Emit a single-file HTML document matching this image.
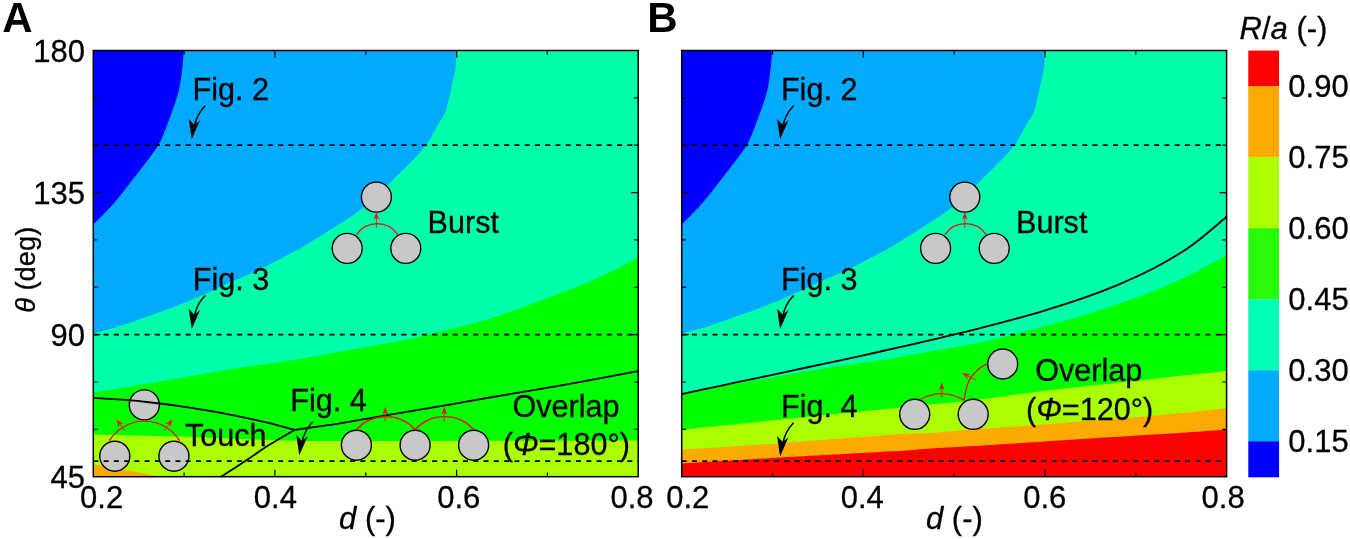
<!DOCTYPE html>
<html><head><meta charset="utf-8"><title>Figure</title>
<style>
html,body{margin:0;padding:0;background:#fff;}
body{width:1350px;height:539px;overflow:hidden;}
svg{display:block;}
text{font-family:"Liberation Sans",sans-serif;fill:#000;stroke:#000;stroke-width:0.3px;}
.t{font-size:31px;}
.a{font-size:30.6px;}
.b{font-size:42px;font-weight:bold;stroke:none;}
.i{font-style:italic;}
</style></head><body>
<svg width="1350" height="539" viewBox="0 0 1350 539">
<rect width="1350" height="539" fill="#fff"/>
<g id="panelA">
<rect x="93.3" y="50.5" width="544.9" height="426.2" fill="#00ffaa"/>
<path fill="#00aaff" d="M456.3,50.5 C456.2,53.3 456.4,60.8 455.5,67.3 C454.6,73.8 452.7,82.1 451.0,89.5 C449.3,96.9 447.6,105.9 445.4,111.8 C443.2,117.7 440.0,121.1 437.8,125.0 C435.6,128.9 434.3,131.6 432.4,135.0 C430.4,138.4 429.1,141.3 426.1,145.2 C423.1,149.1 419.1,153.4 414.4,158.4 C409.7,163.4 401.9,170.9 397.7,175.1 C393.5,179.3 395.4,177.8 389.4,183.4 C383.4,189.0 370.6,201.4 361.9,208.4 C353.1,215.4 346.4,219.4 336.9,225.6 C327.4,231.8 313.3,240.6 305.0,245.6 C296.7,250.6 293.1,252.2 287.3,255.3 C281.5,258.4 275.7,261.5 270.1,264.3 C264.5,267.1 259.5,269.8 253.9,272.3 C248.3,274.9 242.2,277.2 236.7,279.6 C231.1,282.1 228.8,283.3 220.6,287.0 C212.3,290.7 198.3,297.2 187.2,301.8 C176.1,306.4 164.9,310.3 153.8,314.3 C142.7,318.3 130.5,322.8 120.4,326.0 C110.3,329.2 97.8,332.3 93.3,333.6 L93.3,50.5 Z"/>
<path fill="#0000ff" d="M183.7,50.5 C183.5,53.3 183.2,60.8 182.4,67.3 C181.6,73.8 180.8,82.1 179.1,89.5 C177.4,96.9 174.6,104.4 172.0,111.8 C169.4,119.2 165.9,128.4 163.6,134.0 C161.3,139.6 161.2,140.5 158.3,145.2 C155.4,149.9 150.9,155.8 146.3,162.0 C141.7,168.2 136.2,175.2 130.6,182.3 C125.0,189.4 119.0,197.5 112.8,204.5 C106.6,211.5 96.5,221.2 93.3,224.5 L93.3,50.5 Z"/>
<path fill="#00ff00" d="M638.2,257.3 C634.1,259.5 623.3,265.8 613.6,270.5 C603.9,275.2 591.3,280.9 580.2,285.5 C569.1,290.1 557.9,294.0 546.8,298.2 C535.7,302.4 522.8,307.2 513.4,310.6 C504.0,314.0 499.7,316.0 490.3,318.8 C480.9,321.6 467.2,325.0 456.9,327.6 C446.6,330.2 439.7,332.2 428.6,334.7 C417.5,337.2 404.9,339.9 390.2,342.8 C375.4,345.7 356.8,348.8 340.1,351.8 C323.4,354.8 304.4,358.3 290.0,360.6 C275.6,362.9 265.5,364.1 253.9,365.8 C242.3,367.5 237.3,368.1 220.6,370.9 C203.9,373.7 175.0,379.0 153.8,382.6 C132.6,386.2 103.4,390.9 93.3,392.6 L93.3,476.7 L638.2,476.7 Z"/>
<path fill="#aaff00" d="M638.2,440.6 C587.7,440.7 392.2,441.1 335.0,441.1 C277.8,441.1 309.8,441.0 294.9,440.7 C280.0,440.4 265.2,440.0 245.9,439.3 C226.6,438.6 204.4,437.3 179.0,436.5 C153.6,435.7 107.6,434.8 93.3,434.4 L93.3,476.7 L638.2,476.7 Z"/>
<polygon fill="#ffaa00" points="93.3,464.5 112.3,467.6 134.5,471.8 162.0,476.7 93.3,476.7"/>
<circle cx="144.3" cy="404.9" r="15" fill="#c8c8c8" stroke="#000" stroke-width="1.4"/>
<circle cx="114.8" cy="456.2" r="15" fill="#c8c8c8" stroke="#000" stroke-width="1.4"/>
<circle cx="173.9" cy="456.2" r="15" fill="#c8c8c8" stroke="#000" stroke-width="1.4"/>
<circle cx="356.4" cy="445.2" r="15" fill="#c8c8c8" stroke="#000" stroke-width="1.4"/>
<circle cx="415.1" cy="445.2" r="15" fill="#c8c8c8" stroke="#000" stroke-width="1.4"/>
<circle cx="473.6" cy="445.2" r="15" fill="#c8c8c8" stroke="#000" stroke-width="1.4"/>
<circle cx="376.4" cy="197.1" r="15" fill="#c8c8c8" stroke="#000" stroke-width="1.4"/>
<circle cx="347.2" cy="248.4" r="15" fill="#c8c8c8" stroke="#000" stroke-width="1.4"/>
<circle cx="405.8" cy="248.4" r="15" fill="#c8c8c8" stroke="#000" stroke-width="1.4"/>
<line x1="93.3" y1="145.2" x2="638.2" y2="145.2" stroke="#000" stroke-width="1.8" stroke-dasharray="5 5.27"/>
<line x1="93.3" y1="334.6" x2="638.2" y2="334.6" stroke="#000" stroke-width="1.8" stroke-dasharray="5 5.27"/>
<line x1="93.3" y1="461.2" x2="638.2" y2="461.2" stroke="#000" stroke-width="1.8" stroke-dasharray="5 5.27"/>
<path d="M93.3,397.8 C98.1,398.1 112.5,398.9 122.1,399.7 C131.7,400.5 141.3,401.4 150.9,402.5 C160.5,403.6 170.1,404.8 179.7,406.2 C189.3,407.6 199.0,409.0 208.6,410.7 C218.2,412.4 227.8,414.2 237.4,416.2 C247.0,418.1 256.7,420.1 266.2,422.4 C275.7,424.7 289.8,428.6 294.5,429.9" fill="none" stroke="#000" stroke-width="1.8" stroke-linejoin="round"/>
<path d="M294.5,429.9 C302.1,428.8 325.8,425.7 340.0,423.4 C354.2,421.1 361.4,419.5 380.0,416.3 C398.6,413.1 433.1,407.4 451.4,404.3 C469.7,401.2 471.4,400.7 490.0,397.5 C508.6,394.3 538.0,389.5 562.7,385.1 C587.4,380.7 625.6,373.4 638.2,371.1" fill="none" stroke="#000" stroke-width="1.8" stroke-linejoin="round"/>
<path d="M294.5,429.9 C290.1,432.5 276.1,440.5 268.2,445.5 C260.2,450.5 254.7,454.8 246.8,460.0 C238.9,465.2 225.3,473.9 221.0,476.7" fill="none" stroke="#000" stroke-width="1.8" stroke-linejoin="round"/>
<rect x="93.3" y="50.5" width="544.9" height="426.2" fill="none" stroke="#000" stroke-width="1.5"/>
<path d="M184.1,50.5v4.3M184.1,476.7v-4.3M274.9,50.5v7M274.9,476.7v-7M365.8,50.5v4.3M365.8,476.7v-4.3M456.6,50.5v7M456.6,476.7v-7M547.4,50.5v4.3M547.4,476.7v-4.3M93.3,97.9h4.3M638.2,97.9h-4.3M93.3,145.2h4.3M638.2,145.2h-4.3M93.3,192.6h7M638.2,192.6h-7M93.3,239.9h4.3M638.2,239.9h-4.3M93.3,287.3h4.3M638.2,287.3h-4.3M93.3,334.6h7M638.2,334.6h-7M93.3,382.0h4.3M638.2,382.0h-4.3M93.3,429.3h4.3M638.2,429.3h-4.3" stroke="#000" stroke-width="1.2" fill="none"/>
</g>
<g id="panelB">
<rect x="681.7" y="50.5" width="544.9" height="426.2" fill="#00ffaa"/>
<path fill="#00aaff" d="M1044.7,50.5 C1044.6,53.3 1044.8,60.8 1043.9,67.3 C1043.0,73.8 1041.1,82.1 1039.4,89.5 C1037.7,96.9 1036.0,105.9 1033.8,111.8 C1031.6,117.7 1028.4,121.1 1026.2,125.0 C1024.0,128.9 1022.8,131.6 1020.8,135.0 C1018.8,138.4 1017.5,141.3 1014.5,145.2 C1011.5,149.1 1007.5,153.4 1002.8,158.4 C998.1,163.4 990.3,170.9 986.1,175.1 C981.9,179.3 983.8,177.8 977.8,183.4 C971.8,189.0 959.0,201.4 950.3,208.4 C941.5,215.4 934.8,219.4 925.3,225.6 C915.8,231.8 901.7,240.6 893.4,245.6 C885.1,250.6 881.5,252.2 875.7,255.3 C869.9,258.4 864.1,261.5 858.5,264.3 C852.9,267.1 847.9,269.8 842.3,272.3 C836.7,274.9 830.6,277.2 825.1,279.6 C819.5,282.1 817.2,283.3 809.0,287.0 C800.8,290.7 786.7,297.2 775.6,301.8 C764.5,306.4 753.3,310.3 742.2,314.3 C731.1,318.3 718.9,322.8 708.8,326.0 C698.7,329.2 686.2,332.3 681.7,333.6 L681.7,50.5 Z"/>
<path fill="#0000ff" d="M772.1,50.5 C771.9,53.3 771.6,60.8 770.8,67.3 C770.0,73.8 769.2,82.1 767.5,89.5 C765.8,96.9 763.0,104.4 760.4,111.8 C757.8,119.2 754.3,128.4 752.0,134.0 C749.7,139.6 749.6,140.5 746.7,145.2 C743.8,149.9 739.3,155.8 734.7,162.0 C730.1,168.2 724.6,175.2 719.0,182.3 C713.4,189.4 707.4,197.5 701.2,204.5 C695.0,211.5 684.9,221.2 681.7,224.5 L681.7,50.5 Z"/>
<path fill="#00ff00" d="M1226.7,255.3 C1222.3,257.7 1208.6,265.2 1200.3,269.5 C1192.0,273.8 1186.5,276.6 1177.0,280.9 C1167.5,285.1 1154.7,290.7 1143.6,295.0 C1132.5,299.3 1121.3,303.0 1110.2,306.7 C1099.1,310.4 1087.9,314.0 1076.8,317.3 C1065.7,320.6 1054.5,323.5 1043.4,326.5 C1032.3,329.5 1020.8,332.5 1010.0,335.2 C999.2,337.9 992.2,340.0 978.6,342.8 C965.0,345.6 945.2,348.8 928.5,351.8 C911.8,354.8 892.8,358.3 878.4,360.6 C864.0,362.9 853.9,364.1 842.3,365.8 C830.7,367.5 825.7,368.1 809.0,370.9 C792.3,373.7 763.4,379.0 742.2,382.6 C721.0,386.2 691.8,390.9 681.7,392.6 L681.7,476.7 L1226.6,476.7 Z"/>
<path fill="#aaff00" d="M1226.7,371.1 C1214.4,372.4 1183.6,375.5 1152.7,378.9 C1121.8,382.2 1071.9,387.6 1041.4,391.2 C1011.0,394.8 988.6,398.5 970.0,400.7 C951.4,402.9 942.9,403.2 930.0,404.5 C917.1,405.8 917.5,405.8 892.7,408.3 C867.9,410.8 816.6,415.8 781.4,419.4 C746.2,423.0 698.3,428.0 681.7,429.7 L681.7,476.7 L1226.6,476.7 Z"/>
<path fill="#ffaa00" d="M1226.7,408.3 C1214.4,409.5 1183.6,413.0 1152.7,415.7 C1121.8,418.4 1071.9,422.3 1041.4,424.6 C1011.0,426.9 988.6,428.3 970.0,429.7 C951.4,431.1 942.9,432.2 930.0,433.0 C917.1,433.8 917.5,432.9 892.7,434.6 C867.9,436.3 816.6,440.6 781.4,443.1 C746.2,445.6 698.3,448.6 681.7,449.7 L681.7,476.7 L1226.6,476.7 Z"/>
<path fill="#ff0000" d="M1226.7,429.7 C1214.4,430.5 1183.6,432.6 1152.7,434.6 C1121.8,436.6 1071.9,439.8 1041.4,441.7 C1011.0,443.6 988.6,445.1 970.0,446.2 C951.4,447.3 942.9,447.5 930.0,448.4 C917.1,449.2 917.5,449.8 892.7,451.3 C867.9,452.8 816.6,455.5 781.4,457.5 C746.2,459.5 698.3,462.5 681.7,463.5 L681.7,476.7 L1226.6,476.7 Z"/>
<circle cx="964.8" cy="197.1" r="15" fill="#c8c8c8" stroke="#000" stroke-width="1.4"/>
<circle cx="935.6" cy="248.4" r="15" fill="#c8c8c8" stroke="#000" stroke-width="1.4"/>
<circle cx="994.2" cy="248.4" r="15" fill="#c8c8c8" stroke="#000" stroke-width="1.4"/>
<circle cx="914.7" cy="414.3" r="15" fill="#c8c8c8" stroke="#000" stroke-width="1.4"/>
<circle cx="973.2" cy="414.3" r="15" fill="#c8c8c8" stroke="#000" stroke-width="1.4"/>
<circle cx="1002.7" cy="364.0" r="15" fill="#c8c8c8" stroke="#000" stroke-width="1.4"/>
<line x1="681.7" y1="145.2" x2="1226.6" y2="145.2" stroke="#000" stroke-width="1.8" stroke-dasharray="5 5.27"/>
<line x1="681.7" y1="334.6" x2="1226.6" y2="334.6" stroke="#000" stroke-width="1.8" stroke-dasharray="5 5.27"/>
<line x1="681.7" y1="461.2" x2="1226.6" y2="461.2" stroke="#000" stroke-width="1.8" stroke-dasharray="5 5.27"/>
<path d="M681.7,394.2 C687.8,392.9 705.9,388.9 718.0,386.3 C730.1,383.7 742.3,381.2 754.4,378.6 C766.5,376.0 778.6,373.5 790.7,370.9 C802.8,368.3 815.0,365.7 827.1,363.1 C839.2,360.5 851.3,358.0 863.4,355.3 C875.5,352.6 887.7,349.9 899.8,347.2 C911.9,344.5 924.0,341.8 936.1,338.9 C948.2,336.0 960.4,333.1 972.5,330.1 C984.6,327.1 996.7,324.0 1008.8,320.7 C1020.9,317.4 1033.1,314.0 1045.2,310.3 C1057.3,306.6 1069.4,302.9 1081.5,298.6 C1093.6,294.4 1105.8,289.9 1117.9,284.8 C1130.0,279.7 1142.1,274.4 1154.2,268.0 C1166.3,261.6 1178.5,254.8 1190.6,246.2 C1202.7,237.6 1220.9,221.4 1226.9,216.5" fill="none" stroke="#000" stroke-width="1.8"/>
<rect x="681.7" y="50.5" width="544.9" height="426.2" fill="none" stroke="#000" stroke-width="1.5"/>
<path d="M772.5,50.5v4.3M772.5,476.7v-4.3M863.3,50.5v7M863.3,476.7v-7M954.1,50.5v4.3M954.1,476.7v-4.3M1045.0,50.5v7M1045.0,476.7v-7M1135.8,50.5v4.3M1135.8,476.7v-4.3M681.7,97.9h4.3M1226.6,97.9h-4.3M681.7,145.2h4.3M1226.6,145.2h-4.3M681.7,192.6h7M1226.6,192.6h-7M681.7,239.9h4.3M1226.6,239.9h-4.3M681.7,287.3h4.3M1226.6,287.3h-4.3M681.7,334.6h7M1226.6,334.6h-7M681.7,382.0h4.3M1226.6,382.0h-4.3M681.7,429.3h4.3M1226.6,429.3h-4.3" stroke="#000" stroke-width="1.2" fill="none"/>
</g>
<g fill="none" stroke="#e61016" stroke-width="1.3">
<path d="M356.6,234.7 A24.8,24.8 0 0 1 397.8,234.7"/>
<path d="M376.4,227.6 V217" stroke-width="0.9"/>
<path d="M945.0,234.7 A24.8,24.8 0 0 1 986.2,234.7"/>
<path d="M964.8,227.6 V217" stroke-width="0.9"/>
<path d="M109.2,440.9 A41.5,41.5 0 0 1 179.8,440.9"/>
<path d="M124.4,430.4 L118.5,422.2 M164.4,430.4 L170.3,422.2" stroke-width="0.9"/>
<path d="M356.4,429.5 A40,40 0 0 1 415.1,429.5 A40,40 0 0 1 473.8,429.5"/>
<path d="M385.2,421.4 V412 M444.3,421.4 V412" stroke-width="0.9"/>
<path d="M920.6,399.2 Q941.8,387.6 964,400.1"/>
<path d="M941.8,397.6 V388" stroke-width="0.9"/>
<path d="M964.0,400.1 C964.3,398.4 965.0,393.6 966.0,390.0 C967.0,386.4 968.1,381.9 970.2,378.4 C972.3,374.9 975.7,371.6 978.5,369.2 C981.3,366.8 985.4,364.6 986.8,363.7"/>
<path d="M975.5,380 L966,375" stroke-width="0.9"/>
</g>
<g fill="#e61016">
<path transform="translate(376.4,211.9) rotate(0)" d="M0,0 L-2.8,7.8 L0,5.6 L2.8,7.8 Z"/>
<path transform="translate(964.8,211.9) rotate(0)" d="M0,0 L-2.8,7.8 L0,5.6 L2.8,7.8 Z"/>
<path transform="translate(116.4,419.2) rotate(-35.5)" d="M0,0 L-2.8,7.8 L0,5.6 L2.8,7.8 Z"/>
<path transform="translate(172.4,419.2) rotate(35.5)" d="M0,0 L-2.8,7.8 L0,5.6 L2.8,7.8 Z"/>
<path transform="translate(385.2,406.8) rotate(0)" d="M0,0 L-2.8,7.8 L0,5.6 L2.8,7.8 Z"/>
<path transform="translate(444.3,406.8) rotate(0)" d="M0,0 L-2.8,7.8 L0,5.6 L2.8,7.8 Z"/>
<path transform="translate(941.8,382.5) rotate(0)" d="M0,0 L-2.8,7.8 L0,5.6 L2.8,7.8 Z"/>
<path transform="translate(962.1,373.0) rotate(-62)" d="M0,0 L-2.8,7.8 L0,5.6 L2.8,7.8 Z"/>
</g>
<g id="labels">
<text x="2.2" y="32.4" class="b">A</text>
<text x="647.2" y="32.4" class="b">B</text>
<text x="192.5" y="100.1" class="a">Fig. 2</text>
<path d="M205.2,105.7 Q196.5,114.5 194.3,127.0" fill="none" stroke="#000" stroke-width="1.5"/><path d="M191.7,139.3 L188.7,119.0 L194.3,124.9 L200.1,120.2 Z" fill="#000"/>
<text x="192.7" y="289.9" class="a">Fig. 3</text>
<path d="M205.2,295.5 Q196.5,304.3 194.3,316.8" fill="none" stroke="#000" stroke-width="1.5"/><path d="M191.7,329.1 L188.7,308.8 L194.3,314.7 L200.1,310.0 Z" fill="#000"/>
<text x="427.6" y="233.0" class="a">Burst</text>
<text x="101.6" y="508" class="t" text-anchor="middle">0.2</text>
<text x="275.4" y="508" class="t" text-anchor="middle">0.4</text>
<text x="458.7" y="508" class="t" text-anchor="middle">0.6</text>
<text x="632.0" y="508" class="t" text-anchor="middle">0.8</text>
<text x="367.5" y="529.2" class="t" text-anchor="middle"><tspan class="i">d</tspan> (-)</text>
<text x="780.9" y="100.1" class="a">Fig. 2</text>
<path d="M793.6,105.7 Q784.9,114.5 782.7,127.0" fill="none" stroke="#000" stroke-width="1.5"/><path d="M780.1,139.3 L777.1,119.0 L782.7,124.9 L788.5,120.2 Z" fill="#000"/>
<text x="781.1" y="289.9" class="a">Fig. 3</text>
<path d="M793.6,295.5 Q784.9,304.3 782.7,316.8" fill="none" stroke="#000" stroke-width="1.5"/><path d="M780.1,329.1 L777.1,308.8 L782.7,314.7 L788.5,310.0 Z" fill="#000"/>
<text x="1016.0" y="233.0" class="a">Burst</text>
<text x="687.8" y="508" class="t" text-anchor="middle">0.2</text>
<text x="862.3" y="508" class="t" text-anchor="middle">0.4</text>
<text x="1044.7" y="508" class="t" text-anchor="middle">0.6</text>
<text x="1223.1" y="508" class="t" text-anchor="middle">0.8</text>
<text x="954.4" y="529.2" class="t" text-anchor="middle"><tspan class="i">d</tspan> (-)</text>
<text x="290.2" y="410.8" class="a">Fig. 4</text>
<path d="M312.8,421.7 Q304.1,430.5 301.9,443.0" fill="none" stroke="#000" stroke-width="1.5"/><path d="M299.3,455.3 L296.3,435.0 L301.9,440.9 L307.7,436.2 Z" fill="#000"/>
<text x="781.1" y="416.8" class="a">Fig. 4</text>
<path d="M793.6,422.8 Q784.9,431.6 782.7,444.1" fill="none" stroke="#000" stroke-width="1.5"/><path d="M780.1,456.4 L777.1,436.1 L782.7,442.0 L788.5,437.3 Z" fill="#000"/>
<text x="185" y="446.3" class="a">Touch</text>
<text x="512.4" y="416.5" class="a">Overlap</text>
<text x="502.7" y="454.8" class="a">(<tspan class="i">Φ</tspan>=180°)</text>
<text x="1035.2" y="381.2" class="a">Overlap</text>
<text x="1026.0" y="420.2" class="a">(<tspan class="i">Φ</tspan>=120°)</text>
<text x="85" y="61.8" class="t" text-anchor="end">180</text>
<text x="85" y="203.9" class="t" text-anchor="end">135</text>
<text x="85" y="345.9" class="t" text-anchor="end">90</text>
<text x="85" y="488.0" class="t" text-anchor="end">45</text>
<text transform="translate(34.5,269.8) rotate(-90)" text-anchor="middle" style="font-size:27.3px"><tspan class="i">θ</tspan> (deg)</text>
</g>
<g id="cbar">
<rect x="1248.3" y="50.6" width="30.8" height="35.9" fill="#ff0000"/>
<rect x="1248.3" y="86.2" width="30.8" height="71.3" fill="#ffaa00"/>
<rect x="1248.3" y="157.2" width="30.8" height="71.3" fill="#aaff00"/>
<rect x="1248.3" y="228.2" width="30.8" height="71.4" fill="#28fa0a"/>
<rect x="1248.3" y="299.3" width="30.8" height="71.4" fill="#00ffb4"/>
<rect x="1248.3" y="370.4" width="30.8" height="71.3" fill="#00aaff"/>
<rect x="1248.3" y="441.4" width="30.8" height="35.9" fill="#0000ff"/>
<text x="1288.3" y="96.7" class="t">0.90</text>
<text x="1288.3" y="167.7" class="t">0.75</text>
<text x="1288.3" y="238.7" class="t">0.60</text>
<text x="1288.3" y="309.8" class="t">0.45</text>
<text x="1288.3" y="380.9" class="t">0.30</text>
<text x="1288.3" y="451.9" class="t">0.15</text>
<text x="1239.5" y="38.9" class="t"><tspan class="i">R</tspan>/<tspan class="i">a</tspan> (-)</text>
</g>
</svg></body></html>
